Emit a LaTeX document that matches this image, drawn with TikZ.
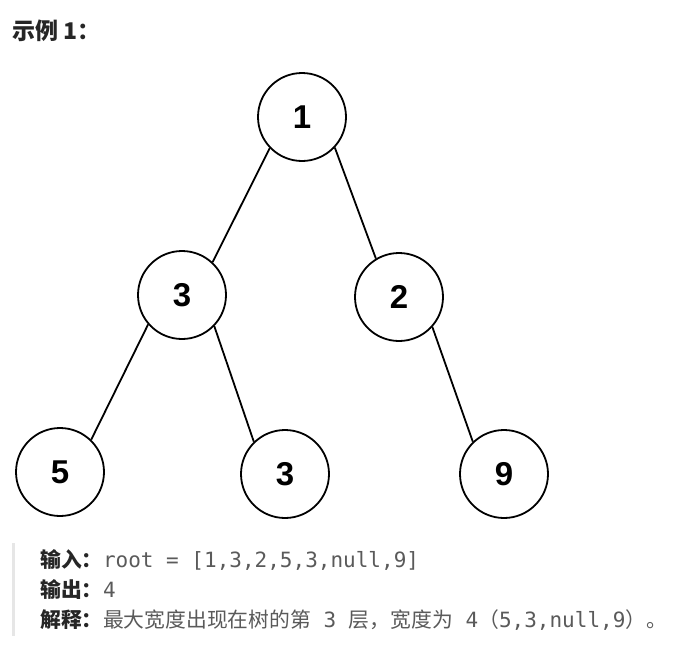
\documentclass[tikz,border=0pt]{standalone}
\usepackage{fontspec}
\setmainfont{Liberation Sans}
\newfontfamily\cjk{Noto Sans CJK SC}
\newfontfamily\mono{DejaVu Sans Mono}
\definecolor{txt}{HTML}{262626}
\definecolor{gtxt}{HTML}{5A5A5A}
\definecolor{barc}{HTML}{E6E6E6}
\newcommand\mfont{\mono\fontsize{21}{22}\selectfont}
\begin{document}
\begin{tikzpicture}[x=1pt,y=-1pt,
  tn/.style={circle,draw=black,line width=1.8pt,minimum size=88pt,inner sep=0pt,fill=white,
    font=\fontsize{33}{33}\selectfont\bfseries},
  edge/.style={line width=1.8pt,draw=black},
  lbl/.style={anchor=base west,inner sep=0pt,text=txt,font=\fontsize{20.8}{22}\selectfont\cjk\bfseries},
  val/.style={anchor=base west,inner sep=0pt,text=gtxt,font=\mfont}]
\useasboundingbox (0,0) rectangle (685,653);
\fill[white] (0,0) rectangle (685,653);
\node[anchor=base west,inner sep=0pt,text=txt,font=\fontsize{23}{24}\selectfont\cjk\bfseries] (title) at (12,39) {示例 1：};
\node[tn] (n1) at (302,117) {1};
\node[tn] (n3) at (182,295) {3};
\node[tn] (n2) at (399,297) {2};
\node[tn] (n5) at (60,472) {5};
\node[tn] (n3b) at (285,474) {3};
\node[tn] (n9) at (504,474) {9};
\draw[edge] (n1.224) -- (n3.47);
\draw[edge] (n1.317) -- (n2.121);
\draw[edge] (n3.221) -- (n5.46);
\draw[edge] (n3.316) -- (n3b.134);
\draw[edge] (n2.318) -- (n9.134);
\fill[barc] (12,543) rectangle (15,636);
\node[lbl] (l1) at (40,567) {输入：};
\node[val] (v1) at (l1.base east) {root = [1,3,2,5,3,null,9]};
\node[lbl] (l2) at (40,597) {输出：};
\node[val] (v2) at (l2.base east) {4};
\node[lbl] (l3) at (40,627) {解释：};
\node[anchor=base west,inner sep=0pt,text=gtxt,font=\fontsize{20.8}{22}\selectfont\cjk] (v3) at (l3.base east) {最大宽度出现在树的第{\mfont\ 3\ }层，宽度为{\mfont\ 4}（{\mfont 5,3,null,9}）。};
\end{tikzpicture}
\end{document}
